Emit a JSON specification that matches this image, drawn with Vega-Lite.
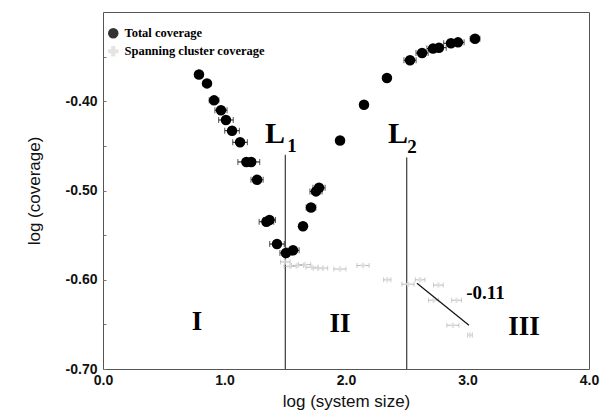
{
  "$schema": "https://vega.github.io/schema/vega-lite/v6.json",
  "width": 486,
  "height": 357,
  "autosize": {"type": "none"},
  "padding": {"left": 103, "top": 12, "right": 17, "bottom": 47},
  "background": "white",
  "config": {
    "view": {"stroke": "#555", "strokeWidth": 1},
    "axis": {
      "grid": false,
      "domain": false,
      "labelFont": "Liberation Sans",
      "labelFontWeight": "bold",
      "labelFontSize": 14,
      "labelColor": "#111",
      "titleFont": "Liberation Sans",
      "titleFontWeight": "normal",
      "titleFontSize": 17,
      "titleColor": "#111"
    },
    "legend": {
      "orient": "none",
      "legendX": 4,
      "legendY": 15,
      "padding": 0,
      "labelFont": "Liberation Serif",
      "labelFontWeight": "bold",
      "labelFontSize": 12.5,
      "labelColor": "#000",
      "symbolSize": 110,
      "rowPadding": 5,
      "labelOffset": 5
    }
  },
  "datasets": {
    "total": [
      {"series": "Total coverage", "x": 0.79, "y": -0.370, "err": 0.03},
      {"series": "Total coverage", "x": 0.856, "y": -0.380, "err": 0.03},
      {"series": "Total coverage", "x": 0.914, "y": -0.399, "err": 0.04},
      {"series": "Total coverage", "x": 0.971, "y": -0.410, "err": 0.05},
      {"series": "Total coverage", "x": 1.012, "y": -0.421, "err": 0.06},
      {"series": "Total coverage", "x": 1.062, "y": -0.433, "err": 0.06},
      {"series": "Total coverage", "x": 1.128, "y": -0.446, "err": 0.06},
      {"series": "Total coverage", "x": 1.18, "y": -0.468, "err": 0.07},
      {"series": "Total coverage", "x": 1.22, "y": -0.468, "err": 0.07},
      {"series": "Total coverage", "x": 1.268, "y": -0.488, "err": 0.05},
      {"series": "Total coverage", "x": 1.345, "y": -0.535, "err": 0.06},
      {"series": "Total coverage", "x": 1.37, "y": -0.533, "err": 0.05},
      {"series": "Total coverage", "x": 1.432, "y": -0.560, "err": 0.06},
      {"series": "Total coverage", "x": 1.506, "y": -0.570, "err": 0.05},
      {"series": "Total coverage", "x": 1.564, "y": -0.567, "err": 0.05},
      {"series": "Total coverage", "x": 1.646, "y": -0.540, "err": 0.03},
      {"series": "Total coverage", "x": 1.712, "y": -0.519, "err": 0.04},
      {"series": "Total coverage", "x": 1.753, "y": -0.501, "err": 0.05},
      {"series": "Total coverage", "x": 1.778, "y": -0.497, "err": 0.05},
      {"series": "Total coverage", "x": 1.951, "y": -0.444, "err": 0.03},
      {"series": "Total coverage", "x": 2.148, "y": -0.404, "err": 0.03},
      {"series": "Total coverage", "x": 2.337, "y": -0.374, "err": 0.03},
      {"series": "Total coverage", "x": 2.527, "y": -0.354, "err": 0.05},
      {"series": "Total coverage", "x": 2.626, "y": -0.346, "err": 0.05},
      {"series": "Total coverage", "x": 2.716, "y": -0.341, "err": 0.05},
      {"series": "Total coverage", "x": 2.765, "y": -0.340, "err": 0.06},
      {"series": "Total coverage", "x": 2.864, "y": -0.335, "err": 0.06},
      {"series": "Total coverage", "x": 2.922, "y": -0.334, "err": 0.05},
      {"series": "Total coverage", "x": 3.062, "y": -0.330, "err": 0.04}
    ],
    "spanning": [
      {"series": "Spanning cluster coverage", "x": 1.50, "y": -0.580, "err": 0.04},
      {"series": "Spanning cluster coverage", "x": 1.54, "y": -0.585, "err": 0.05},
      {"series": "Spanning cluster coverage", "x": 1.60, "y": -0.584, "err": 0.05},
      {"series": "Spanning cluster coverage", "x": 1.66, "y": -0.583, "err": 0.05},
      {"series": "Spanning cluster coverage", "x": 1.72, "y": -0.586, "err": 0.05},
      {"series": "Spanning cluster coverage", "x": 1.77, "y": -0.587, "err": 0.04},
      {"series": "Spanning cluster coverage", "x": 1.81, "y": -0.587, "err": 0.04},
      {"series": "Spanning cluster coverage", "x": 1.95, "y": -0.588, "err": 0.05},
      {"series": "Spanning cluster coverage", "x": 2.14, "y": -0.584, "err": 0.05},
      {"series": "Spanning cluster coverage", "x": 2.34, "y": -0.600, "err": 0.03},
      {"series": "Spanning cluster coverage", "x": 2.51, "y": -0.605, "err": 0.05},
      {"series": "Spanning cluster coverage", "x": 2.61, "y": -0.600, "err": 0.04},
      {"series": "Spanning cluster coverage", "x": 2.76, "y": -0.606, "err": 0.04},
      {"series": "Spanning cluster coverage", "x": 2.72, "y": -0.623, "err": 0.04},
      {"series": "Spanning cluster coverage", "x": 2.91, "y": -0.623, "err": 0.04},
      {"series": "Spanning cluster coverage", "x": 2.88, "y": -0.651, "err": 0.05},
      {"series": "Spanning cluster coverage", "x": 3.02, "y": -0.662, "err": 0.02}
    ],
    "vlines": [
      {"x": 1.5, "y": -0.460},
      {"x": 2.5, "y": -0.463}
    ],
    "slope": [
      {"x": 2.584, "y": -0.604},
      {"x": 3.012, "y": -0.651}
    ],
    "bigL": [
      {"x": 1.416, "y": -0.437, "label": "L"},
      {"x": 2.428, "y": -0.437, "label": "L"}
    ],
    "subs": [
      {"x": 1.556, "y": -0.450, "label": "1"},
      {"x": 2.543, "y": -0.451, "label": "2"}
    ],
    "regions": [
      {"x": 0.774, "y": -0.647, "label": "I"},
      {"x": 1.951, "y": -0.650, "label": "II"},
      {"x": 3.465, "y": -0.653, "label": "III"}
    ],
    "slopeText": [
      {"x": 3.148, "y": -0.615, "label": "-0.11"}
    ]
  },
  "encoding": {
    "x": {
      "field": "x",
      "type": "quantitative",
      "scale": {"domain": [0, 4], "nice": false, "zero": false},
      "axis": {
        "title": "log (system size)",
        "values": [0, 1, 2, 3, 4],
        "format": ".1f",
        "ticks": false,
        "labelPadding": 4,
        "titlePadding": 6,
        "labelFlush": false
      }
    },
    "y": {
      "field": "y",
      "type": "quantitative",
      "scale": {"domain": [-0.7, -0.3], "nice": false, "zero": false},
      "axis": {
        "title": "log (coverage)",
        "values": [-0.7, -0.65, -0.6, -0.55, -0.5, -0.45, -0.4, -0.35],
        "labelExpr": "round(datum.value*100) % 10 == 0 ? replace(format(datum.value, '.2f'), '\u2212', '-') : ''",
        "tickSize": -3,
        "tickColor": "#777",
        "labelPadding": 9,
        "titlePadding": 22
      }
    }
  },
  "layer": [
    {
      "data": {"name": "vlines"},
      "mark": {"type": "rule", "color": "#111", "strokeWidth": 1},
      "encoding": {"y2": {"datum": -0.7}}
    },
    {
      "data": {"name": "spanning"},
      "mark": {"type": "errorbar", "ticks": {"size": 5}, "color": "#aaa", "thickness": 0.8},
      "encoding": {"xError": {"field": "err"}}
    },
    {
      "data": {"name": "spanning"},
      "mark": {"type": "point", "filled": true, "size": 30, "opacity": 0.8},
      "encoding": {
        "color": {
          "field": "series",
          "type": "nominal",
          "scale": {"domain": ["Total coverage", "Spanning cluster coverage"], "range": ["#000000", "#dddddd"]},
          "legend": {"title": null}
        },
        "shape": {
          "field": "series",
          "type": "nominal",
          "scale": {"domain": ["Total coverage", "Spanning cluster coverage"], "range": ["circle", "cross"]},
          "legend": {"title": null}
        }
      }
    },
    {
      "data": {"name": "slope"},
      "mark": {"type": "line", "color": "#111", "strokeWidth": 1.2},
      "encoding": {}
    },
    {
      "data": {"name": "total"},
      "mark": {"type": "errorbar", "ticks": {"size": 6}, "color": "#111", "thickness": 1},
      "encoding": {"xError": {"field": "err"}}
    },
    {
      "data": {"name": "total"},
      "mark": {"type": "point", "filled": true, "size": 110, "opacity": 1},
      "encoding": {
        "color": {
          "field": "series",
          "type": "nominal",
          "scale": {"domain": ["Total coverage", "Spanning cluster coverage"], "range": ["#000000", "#dddddd"]},
          "legend": {"title": null}
        },
        "shape": {
          "field": "series",
          "type": "nominal",
          "scale": {"domain": ["Total coverage", "Spanning cluster coverage"], "range": ["circle", "cross"]},
          "legend": {"title": null}
        }
      }
    },
    {
      "data": {"name": "bigL"},
      "mark": {"type": "text", "font": "Liberation Serif", "fontWeight": "bold", "fontSize": 30, "align": "center", "baseline": "middle", "color": "#000"},
      "encoding": {"text": {"field": "label"}}
    },
    {
      "data": {"name": "subs"},
      "mark": {"type": "text", "font": "Liberation Serif", "fontWeight": "bold", "fontSize": 19, "align": "center", "baseline": "middle", "color": "#000"},
      "encoding": {"text": {"field": "label"}}
    },
    {
      "data": {"name": "regions"},
      "mark": {"type": "text", "font": "Liberation Serif", "fontWeight": "bold", "fontSize": 27, "align": "center", "baseline": "middle", "color": "#000"},
      "encoding": {"text": {"field": "label"}}
    },
    {
      "data": {"name": "slopeText"},
      "mark": {"type": "text", "font": "Liberation Serif", "fontWeight": "bold", "fontSize": 19, "align": "center", "baseline": "middle", "color": "#000"},
      "encoding": {"text": {"field": "label"}}
    }
  ]
}
